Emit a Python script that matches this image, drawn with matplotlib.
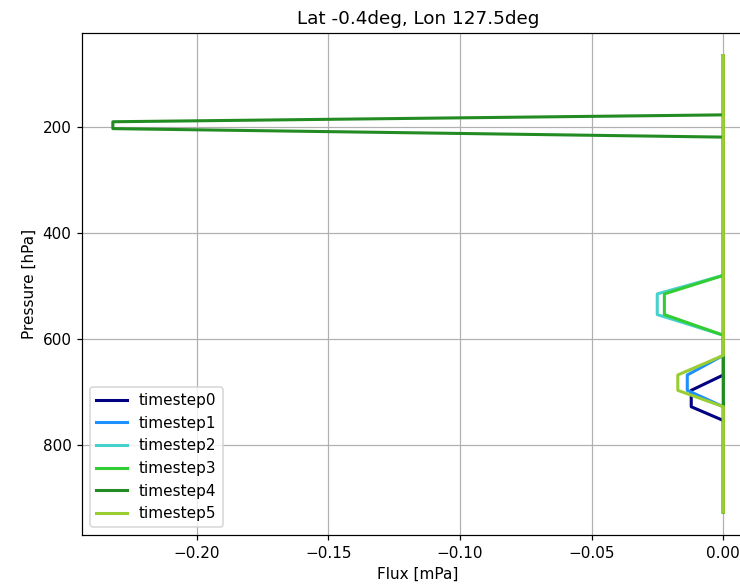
import matplotlib
matplotlib.use("Agg")
import matplotlib.pyplot as plt
import numpy as np

# Pressure levels [hPa] of the profile
pressure = [65, 177, 190, 203, 219, 480, 515, 554, 593, 631, 668, 697, 728, 754, 927]

# Flux [mPa] per timestep at each pressure level
timestep0 = [0, 0, 0, 0, 0, 0, 0, 0, 0, 0, 0, -0.0122, -0.0122, 0, 0]
timestep1 = [0, 0, 0, 0, 0, 0, 0, 0, 0, 0, -0.0137, -0.0137, 0, 0, 0]
timestep2 = [0, 0, 0, 0, 0, 0, -0.0251, -0.0251, 0, 0, 0, 0, 0, 0, 0]
timestep3 = [0, 0, 0, 0, 0, 0, -0.0224, -0.0224, 0, 0, 0, 0, 0, 0, 0]
timestep4 = [0, 0, -0.2318, -0.2318, 0, 0, 0, 0, 0, 0, 0, 0, 0, 0, 0]
timestep5 = [0, 0, 0, 0, 0, 0, 0, 0, 0, 0, -0.0173, -0.0173, 0, 0, 0]

series = [timestep0, timestep1, timestep2, timestep3, timestep4, timestep5]
labels = ["timestep0", "timestep1", "timestep2", "timestep3", "timestep4", "timestep5"]
colors = ["navy", "dodgerblue", "mediumturquoise", "limegreen", "forestgreen", "yellowgreen"]

W, H = 740, 584
DPI = 110
fig = plt.figure(figsize=(W / DPI, H / DPI), dpi=DPI)
left, right, top, bottom = 82.3, 753.9, 32.7, 535.0
ax = fig.add_axes([left / W, (H - bottom) / H, (right - left) / W, (bottom - top) / H])

for vals, lab, col in zip(series, labels, colors):
    ax.plot(vals, pressure, color=col, lw=2, label=lab)

ax.invert_yaxis()
ax.grid(True)
ax.set_xlabel("Flux [mPa]")
ax.set_ylabel("Pressure [hPa]")
ax.set_title("Lat -0.4deg, Lon 127.5deg")
ax.legend(loc="lower left")

fig.savefig("out.png", dpi=DPI)
